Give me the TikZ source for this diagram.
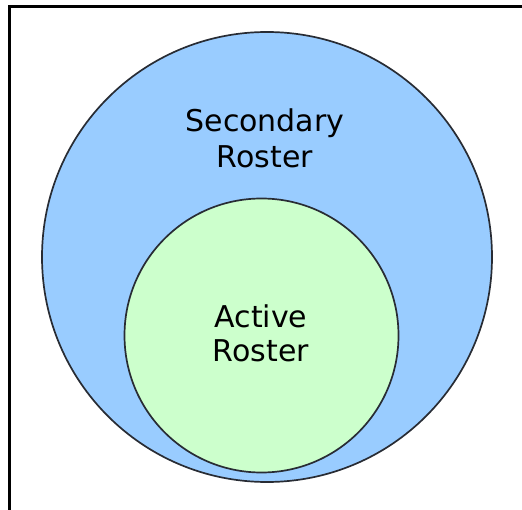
\documentclass[tikz,border=0pt]{standalone}
\usepackage{fontspec}
\setmainfont{DejaVu Sans}
\usetikzlibrary{positioning}
\definecolor{rosterblue}{RGB}{153,204,255}
\definecolor{rostergreen}{RGB}{204,255,204}
\definecolor{edgegray}{RGB}{40,44,52}

\begin{document}
\begin{tikzpicture}[x=1pt, y=-1pt,
    rostertext/.style={anchor=base, font=\fontsize{30}{36}\selectfont, text=black}]
    \useasboundingbox (0,0) rectangle (522,510);
    \clip (0,0) rectangle (522,510);

    % Frame - runs off the right and bottom
    \draw[line width=3pt] (9,540) -- (9,7) -- (540,7);

    % Secondary Roster - outer circle
    \draw[fill=rosterblue, draw=edgegray, line width=1.7pt] (267,257) circle (225);
    \node[rostertext] (secondary1) at (265,132) {Secondary};
    \node[rostertext] (secondary2) at (265,168) {Roster};

    % Active Roster - inner circle
    \draw[fill=rostergreen, draw=edgegray, line width=1.7pt] (261.5,335.5) circle (137);
    \node[rostertext] (active1) at (261,328) {Active};
    \node[rostertext] (active2) at (261,362) {Roster};

\end{tikzpicture}
\end{document}
